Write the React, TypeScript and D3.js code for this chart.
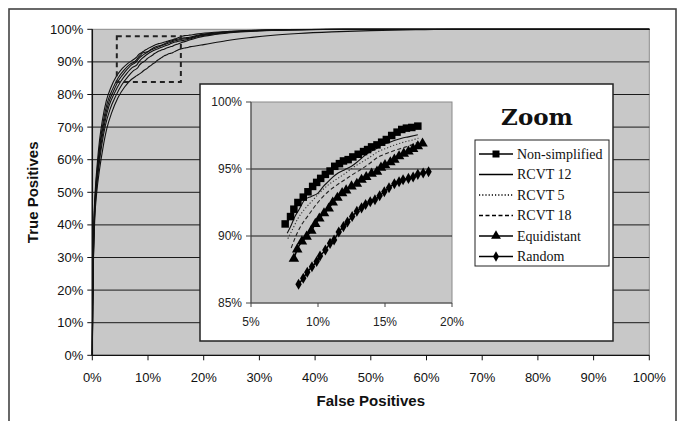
import React from "react";
import * as d3 from "d3";

type Pt = [number, number];

// Tick values (percent)
const mainTicks = [0, 10, 20, 30, 40, 50, 60, 70, 80, 90, 100];
const zoomXTicks = [5, 10, 15, 20];
const zoomYTicks = [85, 90, 95, 100];

// Zoomed section of each ROC curve: [false positives %, true positives %]
const nonSimplified: Pt[] = [
  [7.55, 90.9], [7.95, 91.45], [8.2, 92.0], [8.5, 92.5], [8.9, 92.9], [9.25, 93.3],
  [9.6, 93.7], [9.9, 94.0], [10.2, 94.3], [10.55, 94.6], [10.9, 94.85], [11.25, 95.2],
  [11.6, 95.4], [11.9, 95.6], [12.25, 95.7], [12.6, 95.9], [13.0, 96.1], [13.4, 96.3],
  [13.7, 96.45], [14.0, 96.65], [14.4, 96.8], [14.75, 97.0], [15.1, 97.2], [15.5, 97.5],
  [15.9, 97.75], [16.25, 97.95], [16.6, 98.05], [17.0, 98.1], [17.45, 98.2],
];
const rcvt12: Pt[] = [
  [7.7, 90.2], [8.0, 90.8], [8.25, 91.4], [8.6, 92.0], [9.0, 92.7], [9.5, 92.95],
  [10.0, 93.2], [10.4, 93.7], [10.75, 94.05], [11.1, 94.4], [11.5, 94.7], [12.0, 94.95],
  [12.5, 95.2], [12.9, 95.5], [13.25, 95.8], [13.6, 96.1], [14.0, 96.35], [14.4, 96.55],
  [14.75, 96.8], [15.25, 96.95], [15.75, 97.15], [16.25, 97.3], [16.75, 97.4], [17.45, 97.55],
];
const rcvt5: Pt[] = [
  [7.75, 89.8], [8.1, 90.5], [8.5, 91.3], [9.0, 92.0], [9.5, 92.55], [10.1, 93.2],
  [10.75, 93.8], [11.4, 94.25], [12.0, 94.65], [12.6, 95.1], [13.25, 95.5], [13.9, 95.9],
  [14.5, 96.3], [15.1, 96.55], [15.75, 96.8], [16.4, 97.0], [17.0, 97.15], [17.5, 97.3],
];
const rcvt18: Pt[] = [
  [8.0, 89.1], [8.35, 90.0], [8.75, 90.8], [9.25, 91.5], [9.75, 92.2], [10.25, 92.8],
  [10.75, 93.3], [11.4, 93.8], [12.0, 94.2], [12.6, 94.6], [13.25, 95.0], [13.9, 95.45],
  [14.5, 95.9], [15.1, 96.15], [15.75, 96.4], [16.4, 96.6], [17.0, 96.8], [17.5, 97.0],
];
const equidistant: Pt[] = [
  [8.2, 88.3], [8.45, 89.0], [8.8, 89.6], [9.15, 89.95], [9.5, 90.4], [9.8, 90.9],
  [10.1, 91.3], [10.45, 91.7], [10.8, 92.05], [11.1, 92.5], [11.45, 92.85], [11.8, 93.2],
  [12.1, 93.4], [12.5, 93.7], [12.9, 93.9], [13.25, 94.2], [13.6, 94.4], [14.0, 94.65],
  [14.4, 94.8], [14.7, 95.1], [15.0, 95.3], [15.4, 95.5], [15.7, 95.7], [16.05, 95.95],
  [16.4, 96.15], [16.75, 96.3], [17.1, 96.5], [17.45, 96.7], [17.8, 96.9],
];
const random: Pt[] = [
  [8.55, 86.4], [8.9, 86.85], [9.2, 87.3], [9.55, 87.7], [9.9, 88.1], [10.15, 88.5],
  [10.55, 88.95], [10.9, 89.45], [11.2, 89.7], [11.55, 90.3], [11.9, 90.7], [12.2, 91.05],
  [12.55, 91.45], [12.9, 91.85], [13.25, 92.1], [13.55, 92.35], [13.9, 92.55], [14.25, 92.7],
  [14.6, 93.0], [14.95, 93.3], [15.3, 93.6], [15.7, 93.9], [16.05, 94.05], [16.35, 94.2],
  [16.75, 94.3], [17.1, 94.4], [17.45, 94.6], [17.85, 94.7], [18.25, 94.8],
];

// Lower (steep) part of each curve, starting at the origin
const nonSimplifiedHead: Pt[] = [
  [0, 0], [0.05, 15], [0.15, 30], [0.3, 42], [0.55, 51], [0.9, 59], [1.3, 66],
  [1.8, 72], [2.5, 78], [3.3, 82], [4.3, 85.5], [5.4, 88], [6.5, 89.7],
];
const rcvt12Head: Pt[] = [
  [0, 0], [0.06, 15], [0.17, 30], [0.33, 42], [0.6, 51], [1.0, 59], [1.45, 66],
  [2.0, 72], [2.7, 77.5], [3.6, 81.5], [4.6, 85], [5.7, 87.5], [6.8, 89.3],
];
const rcvt5Head: Pt[] = [
  [0, 0], [0.06, 15], [0.18, 30], [0.35, 42], [0.62, 50.5], [1.05, 58.5], [1.5, 65.5],
  [2.1, 71.5], [2.85, 77], [3.8, 81], [4.8, 84.5], [5.9, 87], [7.0, 89],
];
const rcvt18Head: Pt[] = [
  [0, 0], [0.07, 15], [0.2, 30], [0.38, 42], [0.67, 50.5], [1.1, 58], [1.6, 65],
  [2.2, 71], [3.0, 76.5], [4.0, 80.5], [5.1, 84], [6.2, 86.5], [7.2, 88.3],
];
const equidistantHead: Pt[] = [
  [0, 0], [0.07, 15], [0.2, 30], [0.4, 42], [0.7, 50], [1.15, 57.5], [1.7, 64.5],
  [2.35, 70.5], [3.2, 75.5], [4.2, 79.5], [5.3, 83], [6.4, 85.5], [7.4, 87.3],
];
const randomHead: Pt[] = [
  [0, 0], [0.08, 15], [0.22, 30], [0.45, 42], [0.8, 50], [1.3, 57], [1.9, 63.5],
  [2.6, 69.5], [3.5, 74.5], [4.6, 79], [5.8, 82.3], [7.0, 84.6], [8.0, 85.8],
];

// Upper (flat) part of each curve, up to 100% false positives
const nonSimplifiedTail: Pt[] = [[19, 98.6], [22, 99.1], [26, 99.5], [30, 99.75], [35, 99.9], [45, 100], [100, 100]];
const rcvt12Tail: Pt[] = [[19, 98.2], [22, 98.9], [26, 99.4], [30, 99.7], [35, 99.85], [45, 100], [100, 100]];
const rcvt5Tail: Pt[] = [[19, 98.0], [22, 98.8], [26, 99.35], [30, 99.65], [36, 99.85], [45, 100], [100, 100]];
const rcvt18Tail: Pt[] = [[19, 97.8], [22, 98.6], [26, 99.3], [30, 99.6], [36, 99.85], [45, 100], [100, 100]];
const equidistantTail: Pt[] = [[19, 97.5], [22, 98.4], [26, 99.1], [30, 99.5], [36, 99.8], [46, 100], [100, 100]];
const randomTail: Pt[] = [
  [20, 95.3], [24, 96.5], [28, 97.4], [32, 98.1], [37, 98.7], [43, 99.2], [50, 99.6],
  [58, 99.85], [65, 100], [100, 100],
];

// Region of the main plot shown enlarged in the inset
const zoomRegionFP: [number, number] = [4.4, 15.9];
const zoomRegionTP: [number, number] = [83.8, 97.9];

type Marker = "square" | "triangle" | "diamond" | "none";
interface Series {
  name: string;
  zoom: Pt[];
  head: Pt[];
  tail: Pt[];
  dash: string;
  width: number;
  color: string;
  marker: Marker;
}

const series: Series[] = [
  { name: "Non-simplified", zoom: nonSimplified, head: nonSimplifiedHead, tail: nonSimplifiedTail, dash: "", width: 1.5, color: "#000", marker: "square" },
  { name: "RCVT 12", zoom: rcvt12, head: rcvt12Head, tail: rcvt12Tail, dash: "", width: 1.1, color: "#111", marker: "none" },
  { name: "RCVT 5", zoom: rcvt5, head: rcvt5Head, tail: rcvt5Tail, dash: "1.2,2", width: 1.1, color: "#333", marker: "none" },
  { name: "RCVT 18", zoom: rcvt18, head: rcvt18Head, tail: rcvt18Tail, dash: "4,2.5", width: 1.1, color: "#222", marker: "none" },
  { name: "Equidistant", zoom: equidistant, head: equidistantHead, tail: equidistantTail, dash: "", width: 1.5, color: "#000", marker: "triangle" },
  { name: "Random", zoom: random, head: randomHead, tail: randomTail, dash: "", width: 1.5, color: "#000", marker: "diamond" },
];

const W = 683;
const H = 421;
const SANS = "'Liberation Sans', Arial, sans-serif";
const SERIF = "'Liberation Serif', 'Times New Roman', serif";
const PLOT_BG = "#c8c8c8";

const main = { left: 92.3, right: 649.3, top: 29.3, bottom: 355.3 };
const inset = { left: 200, right: 613, top: 84, bottom: 341 };
const zplot = { left: 251, right: 452, top: 102, bottom: 303 };
const legendBox = { left: 475, right: 609, top: 140, bottom: 266 };

const pct = (v: number) => `${v}%`;

function markerPath(kind: Marker, size: number): string | null {
  if (kind === "square") return d3.symbol(d3.symbolSquare, size * size)();
  if (kind === "triangle") return d3.symbol(d3.symbolTriangle, size * size * 0.75)();
  if (kind === "diamond") return d3.symbol(d3.symbolDiamond, size * size * 0.55)();
  return null;
}

export default function App() {
  const x = d3.scaleLinear().domain([0, 100]).range([main.left, main.right]);
  const y = d3.scaleLinear().domain([0, 100]).range([main.bottom, main.top]);
  const zx = d3.scaleLinear().domain([5, 20]).range([zplot.left, zplot.right]);
  const zy = d3.scaleLinear().domain([85, 100]).range([zplot.bottom, zplot.top]);

  const mainLine = d3.line<Pt>().x((d) => x(d[0])).y((d) => y(d[1])).curve(d3.curveMonotoneX);
  const zoomLine = d3.line<Pt>().x((d) => zx(d[0])).y((d) => zy(d[1])).curve(d3.curveMonotoneX);

  const legendRowY = (i: number) => legendBox.top + 14 + i * 20.5;

  return (
    <svg width={W} height={H} style={{ position: "absolute", left: 0, top: 0, background: "#fff" }}>
      {/* outer frame */}
      <rect x={9} y={9} width={667} height={430} fill="none" stroke="#444" strokeWidth={1.6} />

      {/* main plot area */}
      <rect x={main.left} y={main.top} width={main.right - main.left} height={main.bottom - main.top}
        fill={PLOT_BG} stroke="#8a8a8a" strokeWidth={1} />
      {mainTicks.filter((t) => t > 0 && t < 100).map((t) => (
        <line key={`g${t}`} x1={main.left} x2={main.right} y1={y(t)} y2={y(t)} stroke="#1a1a1a" strokeWidth={1} />
      ))}

      {/* full ROC curves */}
      <g fill="none">
        {series.map((s) => (
          <path key={s.name} d={mainLine([...s.head, ...s.zoom, ...s.tail]) || ""}
            stroke="#111" strokeWidth={1.1} />
        ))}
      </g>

      {/* zoom region marker */}
      <rect x={x(zoomRegionFP[0])} y={y(zoomRegionTP[1])}
        width={x(zoomRegionFP[1]) - x(zoomRegionFP[0])} height={y(zoomRegionTP[0]) - y(zoomRegionTP[1])}
        fill="none" stroke="#222" strokeWidth={2} strokeDasharray="5,4" />

      {/* main axes */}
      <line x1={main.left} x2={main.left} y1={main.top} y2={main.bottom} stroke="#111" strokeWidth={1.5} />
      <line x1={main.left} x2={main.right} y1={main.bottom} y2={main.bottom} stroke="#111" strokeWidth={1.2} />
      {mainTicks.map((t) => (
        <g key={`yt${t}`}>
          <line x1={main.left - 5} x2={main.left} y1={y(t)} y2={y(t)} stroke="#111" />
          <text x={main.left - 9} y={y(t)} dy="0.35em" textAnchor="end" fontFamily={SANS} fontSize={13} fill="#111">{pct(t)}</text>
        </g>
      ))}
      {mainTicks.map((t) => (
        <g key={`xt${t}`}>
          <line x1={x(t)} x2={x(t)} y1={main.bottom} y2={main.bottom + 5} stroke="#111" />
          <text x={x(t)} y={main.bottom + 27} textAnchor="middle" fontFamily={SANS} fontSize={13} fill="#111">{pct(t)}</text>
        </g>
      ))}
      <text x={(main.left + main.right) / 2} y={406} textAnchor="middle" fontFamily={SANS} fontWeight="bold" fontSize={15} fill="#111">False Positives</text>
      <text transform={`translate(38, ${(main.top + main.bottom) / 2}) rotate(-90)`} textAnchor="middle"
        fontFamily={SANS} fontWeight="bold" fontSize={15} fill="#111">True Positives</text>

      {/* inset */}
      <rect x={inset.left} y={inset.top} width={inset.right - inset.left} height={inset.bottom - inset.top}
        fill="#fff" stroke="#222" strokeWidth={1.5} />
      <rect x={zplot.left} y={zplot.top} width={zplot.right - zplot.left} height={zplot.bottom - zplot.top}
        fill={PLOT_BG} stroke="#8a8a8a" strokeWidth={1} />
      {zoomYTicks.filter((t) => t > 85 && t < 100).map((t) => (
        <line key={`zg${t}`} x1={zplot.left} x2={zplot.right} y1={zy(t)} y2={zy(t)} stroke="#1a1a1a" strokeWidth={1} />
      ))}
      <line x1={zplot.left} x2={zplot.left} y1={zplot.top} y2={zplot.bottom} stroke="#444" strokeWidth={1} />
      <line x1={zplot.left} x2={zplot.right} y1={zplot.bottom} y2={zplot.bottom} stroke="#444" strokeWidth={1} />
      {zoomYTicks.map((t) => (
        <g key={`zyt${t}`}>
          <line x1={zplot.left - 5} x2={zplot.left} y1={zy(t)} y2={zy(t)} stroke="#444" />
          <text x={zplot.left - 9} y={zy(t)} dy="0.35em" textAnchor="end" fontFamily={SANS} fontSize={12} fill="#222">{pct(t)}</text>
        </g>
      ))}
      {zoomXTicks.map((t) => (
        <g key={`zxt${t}`}>
          <line x1={zx(t)} x2={zx(t)} y1={zplot.bottom} y2={zplot.bottom + 4} stroke="#444" />
          <text x={zx(t)} y={zplot.bottom + 23} textAnchor="middle" fontFamily={SANS} fontSize={12} fill="#222">{pct(t)}</text>
        </g>
      ))}

      {/* zoomed curves */}
      <g fill="none">
        {series.map((s) => (
          <path key={`z${s.name}`} d={zoomLine(s.zoom) || ""} stroke={s.color}
            strokeWidth={s.width} strokeDasharray={s.dash || undefined} />
        ))}
      </g>
      {series.filter((s) => s.marker !== "none").map((s) => {
        const p = markerPath(s.marker, s.marker === "square" ? 7.5 : 8);
        return (
          <g key={`m${s.name}`} fill="#000">
            {s.zoom.map((d, i) => (
              <path key={i} d={p || ""} transform={`translate(${zx(d[0])},${zy(d[1])})`} />
            ))}
          </g>
        );
      })}

      {/* title and legend */}
      <text x={537} y={125} textAnchor="middle" fontFamily="'DejaVu Serif', serif" fontWeight="bold" fontSize={23} fill="#111">Zoom</text>
      <rect x={legendBox.left} y={legendBox.top} width={legendBox.right - legendBox.left} height={legendBox.bottom - legendBox.top}
        fill="#fff" stroke="#222" strokeWidth={1} />
      {series.map((s, i) => {
        const cy = legendRowY(i);
        const p = markerPath(s.marker, s.marker === "square" ? 7 : 7.5);
        return (
          <g key={`l${s.name}`}>
            <line x1={479} x2={513} y1={cy} y2={cy} stroke="#000" strokeWidth={1.3} strokeDasharray={s.dash || undefined} />
            {p && <path d={p} transform={`translate(496,${cy})`} fill="#000" />}
            <text x={517} y={cy} dy="0.33em" fontFamily={SERIF} fontSize={14} fill="#111">{s.name}</text>
          </g>
        );
      })}
    </svg>
  );
}
